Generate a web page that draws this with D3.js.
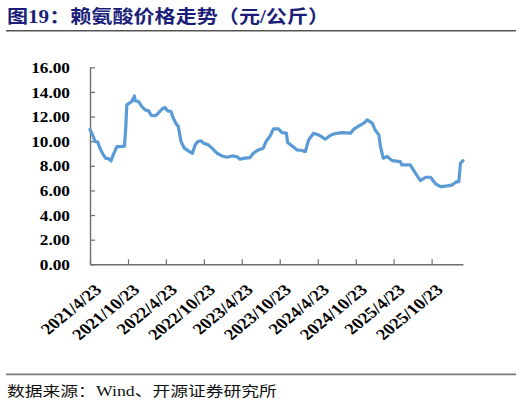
<!DOCTYPE html>
<html lang="zh">
<head>
  <meta charset="UTF-8">
  <title>赖氨酸价格走势</title>
  <script src="https://cdnjs.cloudflare.com/ajax/libs/d3/7.8.5/d3.min.js"></script>
  <style>
    body { margin: 0; background: #fff; }
    svg { display: block; }
  </style>
</head>
<body>
  <script>
var width = 522,
    height = 404;

var navy = "#1c1f7a",
    blue = "#5b9bd5",
    axisGray = "#6e6e6e",
    ruleGray = "#7a7a7a";

// price, yuan/kg
var dates = [
  "2021-04-23","2021-05-09","2021-05-17","2021-05-30","2021-06-10","2021-06-26","2021-07-08","2021-07-23",
  "2021-08-02","2021-08-13","2021-08-30","2021-09-15","2021-10-06","2021-10-12","2021-10-17","2021-10-30",
  "2021-11-10","2021-11-23","2021-11-26","2021-12-12","2021-12-29","2022-01-14","2022-01-30","2022-02-12",
  "2022-03-05","2022-03-17","2022-04-06","2022-04-19","2022-05-02","2022-05-18","2022-05-29","2022-06-10",
  "2022-06-22","2022-07-05","2022-07-21","2022-08-09","2022-08-29","2022-09-11","2022-09-24","2022-10-10",
  "2022-10-21","2022-11-14","2022-12-01","2022-12-25","2023-01-18","2023-02-11","2023-03-07","2023-03-30",
  "2023-04-15","2023-05-09","2023-06-02","2023-06-18","2023-07-12","2023-08-05","2023-08-18","2023-09-07",
  "2023-09-23","2023-10-17","2023-11-03","2023-11-24","2023-11-30","2023-12-21","2024-01-14","2024-02-07",
  "2024-02-23","2024-03-10","2024-04-03","2024-04-27","2024-05-29","2024-06-23","2024-07-17","2024-08-18",
  "2024-09-28","2024-10-14","2024-11-07","2024-12-01","2024-12-17","2025-01-10","2025-01-26","2025-02-11",
  "2025-02-19","2025-03-04","2025-03-23","2025-04-16","2025-05-25","2025-06-02","2025-07-12","2025-08-06",
  "2025-08-30","2025-09-24","2025-10-18","2025-11-11","2025-12-05","2026-01-07","2026-01-31","2026-02-16",
  "2026-03-03","2026-03-11","2026-03-23"
];
var prices = [
  10.95,10.37, 9.97, 9.92, 9.43, 8.89, 8.62, 8.56,
   8.40, 8.89, 9.56, 9.56, 9.60,11.06,12.95,13.09,
  13.22,13.68,13.28,13.22,12.81,12.54,12.46,12.08,
  12.08,12.28,12.63,12.73,12.46,12.41,11.87,11.46,
  11.19, 9.97, 9.43, 9.21, 9.02, 9.70, 9.97,10.02,
   9.84, 9.70, 9.43, 9.02, 8.80, 8.70, 8.80, 8.75,
   8.54, 8.62, 8.67, 9.02, 9.29, 9.43, 9.97,10.43,
  11.00,11.00,10.70,10.65, 9.89, 9.62, 9.29, 9.24,
   9.15,10.10,10.65,10.51,10.16,10.48,10.62,10.70,
  10.65,10.98,11.24,11.46,11.73,11.46,10.86,10.51,
   9.56, 8.62, 8.75, 8.42, 8.34, 8.07, 8.07, 7.40,
   6.80, 7.07, 7.07, 6.53, 6.31, 6.37, 6.45, 6.67,
   6.72, 8.21, 8.42
];

var xTickLabels = ["2021/4/23","2021/10/23","2022/4/23","2022/10/23","2023/4/23",
                   "2023/10/23","2024/4/23","2024/10/23","2025/4/23","2025/10/23"];
var yTicks = [0, 2, 4, 6, 8, 10, 12, 14, 16];

var title = "图19：赖氨酸价格走势（元/公斤）";
var source = "数据来源：Wind、开源证券研究所";

var parseDay = d3.timeParse("%Y-%m-%d"),
    parseTick = d3.timeParse("%Y/%m/%d");

var data = dates.map(function(d, i) { return {date: parseDay(d), value: prices[i]}; });

var plot = {left: 90, right: 463, top: 67.3, bottom: 264.3};

var x = d3.scaleTime()
    .domain([parseDay("2021-04-23"), parseDay("2026-03-23")])
    .range([plot.left, plot.right]);

var y = d3.scaleLinear()
    .domain([0, 16])
    .range([plot.bottom, plot.top]);

var svg = d3.select("body").append("svg")
    .attr("width", width)
    .attr("height", height);

// title + rule
svg.append("text")
    .attr("transform", "translate(7,23) scale(1.14,1)")
    .style("font-family", "'Liberation Serif','Noto Sans CJK SC',serif")
    .style("font-weight", "bold")
    .style("font-size", "18.5px")
    .style("fill", navy)
    .text(title);

svg.append("line")
    .attr("x1", 6).attr("x2", 516)
    .attr("y1", 30.7).attr("y2", 30.7)
    .style("stroke", "#555")
    .style("stroke-width", 1.6);

// y axis
var yAxis = svg.append("g")
    .attr("transform", "translate(" + plot.left + ",0)")
    .call(d3.axisLeft(y).tickValues(yTicks).tickSizeInner(-5).tickSizeOuter(0).tickFormat(d3.format(".2f")));

yAxis.select(".domain").style("stroke", axisGray).style("stroke-width", 1.4);
yAxis.selectAll(".tick line").style("stroke", axisGray).style("stroke-width", 1.2);
yAxis.selectAll(".tick text")
    .attr("x", null).attr("dy", null)
    .attr("text-anchor", "end")
    .attr("transform", "translate(" + (70 - plot.left) + ",0) scale(1.15,1)")
    .attr("dy", "0.34em")
    .style("font-family", "'Liberation Serif',serif")
    .style("font-weight", "bold")
    .style("font-size", "15px")
    .style("fill", "#000");

// x axis
var xAxis = svg.append("g")
    .attr("transform", "translate(0," + plot.bottom + ")")
    .call(d3.axisBottom(x)
      .tickValues(xTickLabels.map(function(t) { return parseTick(t); }))
      .tickSizeInner(-5).tickSizeOuter(0)
      .tickFormat(function(d, i) { return xTickLabels[i]; }));

xAxis.select(".domain").style("stroke", axisGray).style("stroke-width", 1.4);
xAxis.selectAll(".tick line").style("stroke", axisGray).style("stroke-width", 1.2);
xAxis.selectAll(".tick text")
    .attr("y", null).attr("dy", null)
    .attr("text-anchor", "end")
    .attr("transform", "translate(3,19) scale(1.22,1) rotate(-45)")
    .attr("dy", "0.68em")
    .style("font-family", "'Liberation Serif',serif")
    .style("font-weight", "bold")
    .style("font-size", "15.5px")
    .style("fill", "#000");

// price line
var line = d3.line()
    .x(function(d) { return x(d.date); })
    .y(function(d) { return y(d.value); });

svg.append("path")
    .datum(data)
    .attr("d", line)
    .style("fill", "none")
    .style("stroke", blue)
    .style("stroke-width", 3.2)
    .style("stroke-linejoin", "round")
    .style("stroke-linecap", "round");

// source + rule
svg.append("line")
    .attr("x1", 6).attr("x2", 516)
    .attr("y1", 374.3).attr("y2", 374.3)
    .style("stroke", ruleGray)
    .style("stroke-width", 1.8);

svg.append("text")
    .attr("transform", "translate(7,396) scale(1.27,1)")
    .style("font-family", "'Liberation Serif','Noto Sans CJK SC',serif")
    .style("font-size", "14px")
    .style("fill", "#111")
    .text(source);
  </script>
</body>
</html>
